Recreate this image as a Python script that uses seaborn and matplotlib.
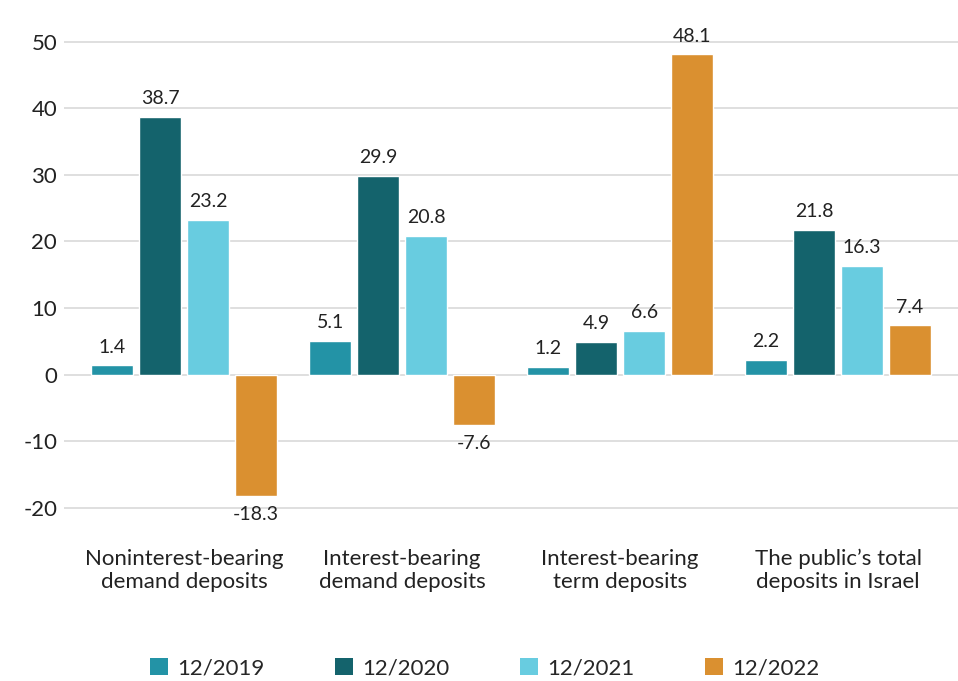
import pandas as pd
import matplotlib.pyplot as plt
import seaborn as sns
from matplotlib.patches import Patch

categories = [
    'Noninterest-bearing\ndemand deposits',
    'Interest-bearing\ndemand deposits',
    'Interest-bearing\nterm deposits',
    'The public\u2019s total\ndeposits in Israel',
]
periods = ['12/2019', '12/2020', '12/2021', '12/2022']
v2019 = [1.4, 5.1, 1.2, 2.2]
v2020 = [38.7, 29.9, 4.9, 21.8]
v2021 = [23.2, 20.8, 6.6, 16.3]
v2022 = [-18.3, -7.6, 48.1, 7.4]
colors = ['#2393A6', '#14636C', '#68CCE0', '#DA9030']

rows = []
for p, vals in zip(periods, [v2019, v2020, v2021, v2022]):
    for c, v in zip(categories, vals):
        rows.append({'Category': c, 'Period': p, 'Value': v})
df = pd.DataFrame(rows)

sns.set_theme(style="white")
plt.rcParams['font.family'] = ['Lato', 'DejaVu Sans']
plt.rcParams['axes.unicode_minus'] = False

fig = plt.figure(figsize=(9.58, 6.81), dpi=100)
ax = fig.add_axes([0.067, 0.225, 0.933, 0.743])

sns.barplot(data=df, x='Category', y='Value', hue='Period',
            palette=colors, width=0.88, gap=0.125, saturation=1,
            legend=False, ax=ax, zorder=3)

ax.set_ylim(-23, 53)
ax.set_xlim(-0.55, 3.55)
ax.set_yticks(range(-20, 51, 10))
ax.yaxis.grid(True, color='#D9D9D9', linewidth=1.2, zorder=0)
ax.set_axisbelow(True)
for s in ax.spines.values():
    s.set_visible(False)
ax.tick_params(axis='both', length=0, labelsize=16, colors='#222222')
ax.tick_params(axis='x', pad=15)
ax.tick_params(axis='y', pad=5)
ax.set_xlabel('')
ax.set_ylabel('')

for cont in ax.containers:
    ax.bar_label(cont, fmt='%.1f', padding=7, fontsize=14, color='#222222')

handles = [Patch(facecolor=c, edgecolor='none') for c in colors]
fig.legend(handles, periods, loc='lower center', bbox_to_anchor=(0.506, -0.025),
           ncol=4, frameon=False, fontsize=16, handlelength=0.8, handleheight=0.8,
           handletextpad=0.4, columnspacing=3.2)

fig.savefig('out.png', dpi=100)
